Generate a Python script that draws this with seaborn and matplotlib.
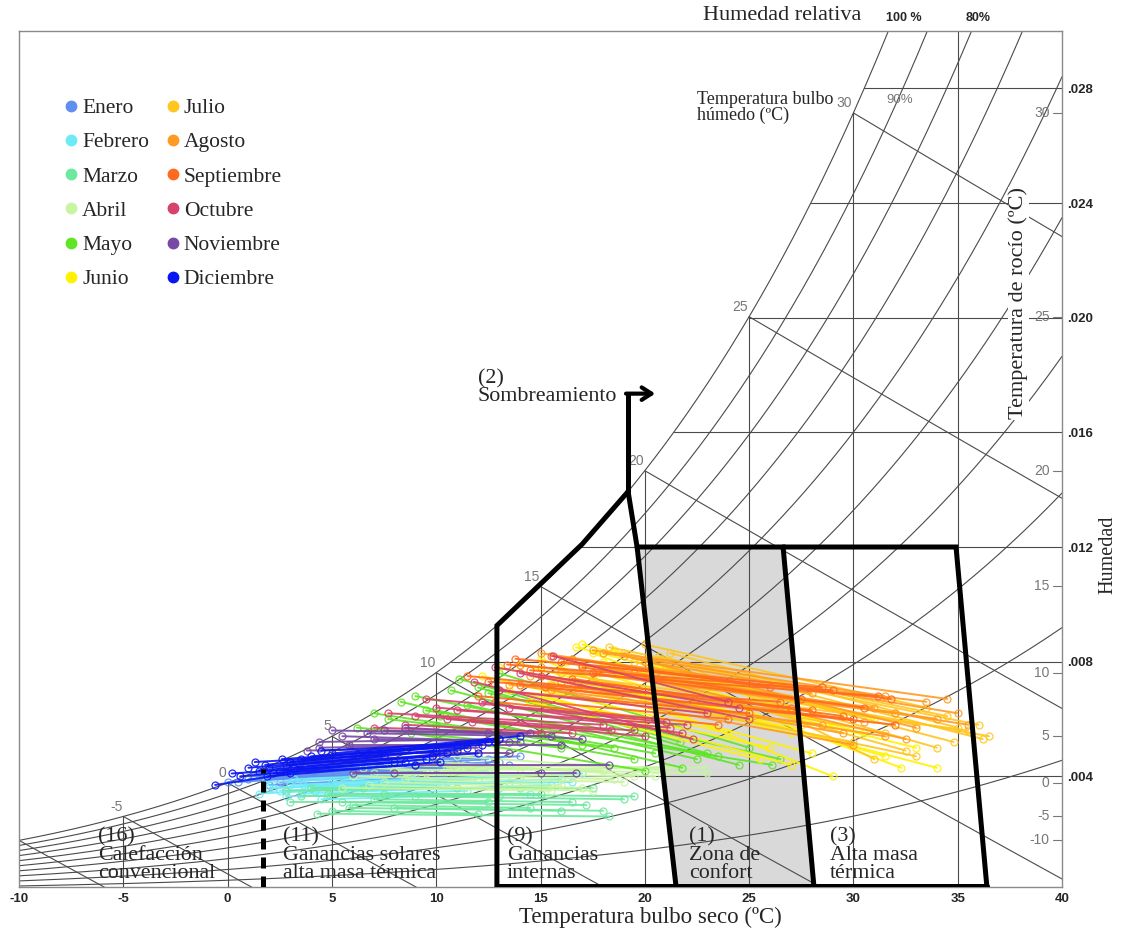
import numpy as np
import pandas as pd
import matplotlib.pyplot as plt
import seaborn as sns
from matplotlib.lines import Line2D

# Meses y colores de la leyenda
meses = ['Enero', 'Febrero', 'Marzo', 'Abril', 'Mayo', 'Junio',
         'Julio', 'Agosto', 'Septiembre', 'Octubre', 'Noviembre', 'Diciembre']
colores = ['#5f8ff0', '#6eeaf7', '#6ee89e', '#c8f5a2', '#5fe524', '#fff200',
           '#ffc61e', '#ff9a22', '#ff6a1e', '#d6426c', '#7848a4', '#0a16f0']

# Lineas diarias: (T min, humedad a T min, T max, humedad a T max)
enero = [(1.0, .0039, 10.0, .0043), (2.0, .0040, 11.5, .0044), (2.5, .0038, 9.0, .0041),
         (1.5, .0041, 12.5, .0046), (3.0, .0042, 13.0, .0045), (0.5, .0038, 8.0, .0042),
         (3.5, .0043, 12.0, .0047), (2.0, .0037, 10.5, .0040), (4.0, .0044, 14.0, .0047),
         (1.2, .0040, 11.0, .0045), (0.0, .0038, 9.5, .0042), (2.8, .0041, 13.5, .0044),
         (1.8, .0039, 7.0, .0041), (3.8, .0042, 11.0, .0043)]
febrero = [(2.0, .0036, 12.0, .0039), (2.5, .0035, 13.5, .0038), (3.0, .0037, 14.0, .0040),
           (1.5, .0034, 10.0, .0037), (3.5, .0034, 15.5, .0037), (4.0, .0036, 16.0, .0039),
           (2.8, .0033, 11.5, .0035), (5.0, .0038, 17.0, .0041), (3.2, .0039, 12.5, .0042),
           (4.5, .0032, 14.5, .0034), (1.8, .0038, 9.0, .0040), (4.2, .0035, 13.0, .0036),
           (3.6, .0037, 16.5, .0038), (2.2, .0036, 10.5, .0038)]
marzo = [(4.3, .0027, 18.3, .0026), (5.5, .0031, 17.2, .0030), (6.0, .0030, 14.5, .0029),
         (3.5, .0033, 13.0, .0033), (7.0, .0032, 16.5, .0031), (4.8, .0034, 15.0, .0034),
         (8.0, .0029, 18.0, .0028), (2.8, .0035, 11.0, .0036), (6.5, .0036, 17.5, .0036),
         (5.0, .0028, 12.0, .0027), (9.0, .0033, 19.0, .0032), (3.0, .0031, 12.5, .0031),
         (7.5, .0034, 19.5, .0033), (5.8, .0029, 16.0, .0028), (4.0, .0036, 14.0, .0036)]
abril = [(6.0, .0040, 19.0, .0038), (8.0, .0042, 21.8, .0043), (7.5, .0038, 17.0, .0036),
         (9.0, .0044, 22.9, .0043), (5.5, .0036, 15.5, .0035), (10.0, .0045, 20.5, .0040),
         (7.0, .0041, 18.5, .0039), (8.5, .0039, 16.0, .0037), (11.0, .0047, 21.0, .0042),
         (6.5, .0043, 14.0, .0041), (9.5, .0041, 19.5, .0040), (7.8, .0044, 18.0, .0042),
         (10.5, .0043, 23.0, .0041), (6.8, .0037, 17.5, .0035)]
mayo = [(6.2, .0057, 16.0, .0050), (7.7, .0060, 18.5, .0050), (8.3, .0066, 21.8, .0043),
        (10.7, .0070, 24.5, .0044), (11.1, .0074, 21.7, .0052), (9.5, .0063, 26.1, .0044),
        (12.0, .0071, 23.0, .0048), (10.0, .0058, 19.5, .0046), (13.0, .0076, 25.0, .0050),
        (8.8, .0055, 20.0, .0042), (11.5, .0065, 22.5, .0046), (9.0, .0068, 23.5, .0047),
        (12.5, .0069, 26.5, .0046), (7.0, .0062, 17.0, .0051), (10.2, .0061, 20.5, .0048)]
junio = [(12.2, .0075, 24.0, .0055), (14.0, .0079, 27.0, .0055), (16.7, .0085, 29.5, .0062),
         (15.0, .0081, 29.0, .0040), (17.5, .0083, 32.3, .0043), (16.0, .0077, 34.0, .0043),
         (13.5, .0070, 26.0, .0050), (18.0, .0080, 30.5, .0055), (15.5, .0073, 28.0, .0048),
         (17.0, .0086, 31.0, .0060), (14.5, .0066, 25.5, .0046), (13.0, .0078, 27.5, .0058),
         (16.2, .0080, 33.0, .0050), (18.5, .0084, 29.0, .0058), (15.2, .0068, 27.0, .0044),
         (17.8, .0076, 31.5, .0047)]
julio = [(18.3, .0085, 34.5, .0061), (20.7, .0082, 36.2, .0053), (21.2, .0083, 35.0, .0057),
         (17.0, .0079, 33.0, .0058), (19.5, .0080, 34.0, .0050), (16.0, .0076, 31.5, .0055),
         (18.8, .0077, 32.5, .0049), (15.5, .0072, 30.0, .0052), (20.0, .0086, 33.5, .0064),
         (17.5, .0074, 35.5, .0056), (22.0, .0079, 31.0, .0046), (19.0, .0083, 36.0, .0058),
         (16.5, .0081, 32.0, .0062), (21.0, .0078, 34.8, .0052), (18.0, .0070, 33.0, .0047),
         (20.5, .0075, 36.5, .0054)]
agosto = [(16.5, .0081, 33.5, .0066), (15.0, .0078, 32.0, .0062), (18.0, .0083, 31.5, .0068),
          (14.5, .0075, 30.5, .0059), (17.0, .0079, 34.0, .0060), (19.0, .0082, 33.0, .0057),
          (16.0, .0073, 29.5, .0055), (13.5, .0072, 28.5, .0058), (18.5, .0077, 32.5, .0053),
          (15.5, .0070, 30.0, .0051), (20.0, .0080, 35.0, .0062), (17.5, .0084, 34.5, .0067),
          (14.0, .0079, 31.0, .0064), (19.5, .0076, 35.5, .0058), (16.8, .0071, 31.5, .0054),
          (15.0, .0083, 28.0, .0069)]
septiembre = [(13.4, .0079, 29.0, .0070), (14.5, .0077, 31.2, .0068), (16.0, .0080, 31.8, .0067),
              (12.5, .0073, 26.5, .0066), (15.0, .0075, 28.0, .0063), (17.0, .0078, 27.5, .0067),
              (13.0, .0070, 25.0, .0062), (14.0, .0072, 30.0, .0060), (16.5, .0074, 29.5, .0061),
              (12.0, .0068, 24.0, .0060), (15.5, .0082, 26.0, .0071), (13.8, .0081, 28.5, .0071),
              (11.5, .0075, 27.0, .0064), (15.2, .0071, 32.0, .0058), (17.5, .0076, 30.5, .0064),
              (12.8, .0066, 23.5, .0058)]
octubre = [(7.7, .0062, 18.0, .0058), (9.0, .0061, 19.5, .0056), (11.8, .0073, 22.3, .0053),
           (12.2, .0066, 21.8, .0055), (11.7, .0059, 18.4, .0056), (15.6, .0082, 24.0, .0066),
           (10.0, .0064, 21.2, .0057), (13.0, .0070, 23.0, .0062), (8.5, .0058, 16.5, .0055),
           (14.0, .0076, 25.0, .0060), (10.5, .0060, 20.0, .0054), (9.5, .0067, 20.5, .0060),
           (11.0, .0063, 22.0, .0058), (12.8, .0078, 24.5, .0064), (7.0, .0057, 15.0, .0055),
           (13.5, .0064, 21.0, .0059)]
noviembre = [(4.4, .0052, 13.0, .0053), (4.4, .0050, 11.5, .0051), (5.5, .0054, 14.0, .0052),
             (6.7, .0055, 15.5, .0054), (7.0, .0053, 13.5, .0052), (3.0, .0045, 10.0, .0047),
             (8.0, .0041, 16.7, .0041), (6.0, .0041, 15.0, .0041), (9.0, .0044, 18.3, .0044),
             (5.0, .0056, 12.5, .0055), (8.5, .0057, 17.0, .0053), (3.8, .0049, 12.0, .0050),
             (5.8, .0051, 16.0, .0051), (7.5, .0056, 14.5, .0055), (6.3, .0048, 13.5, .0048)]
diciembre = [(-0.6, .0037, 3.0, .0041), (0.6, .0040, 9.5, .0046), (1.5, .0042, 10.5, .0048),
             (2.0, .0043, 11.5, .0050), (2.5, .0042, 8.0, .0045), (1.8, .0044, 12.5, .0052),
             (3.0, .0045, 10.0, .0049), (2.2, .0041, 9.0, .0044), (3.5, .0046, 13.0, .0053),
             (1.0, .0043, 7.5, .0047), (4.0, .0047, 11.0, .0051), (2.8, .0044, 12.0, .0048),
             (5.0, .0048, 14.0, .0054), (0.2, .0041, 8.5, .0045), (1.3, .0045, 11.0, .0049),
             (2.6, .0046, 12.2, .0051), (3.2, .0043, 9.8, .0047), (1.9, .0040, 10.2, .0045),
             (4.5, .0049, 12.8, .0052)]
datos_mes = [enero, febrero, marzo, abril, mayo, junio,
             julio, agosto, septiembre, octubre, noviembre, diciembre]

# Grilla psicrometrica
rh_curvas = [1.0, 0.9, 0.8, 0.7, 0.6, 0.5, 0.4, 0.3, 0.2, 0.1]
t_bulbo_humedo = [-10, -5, 0, 5, 10, 15, 20, 25, 30]
t_verticales = [-5, 0, 5, 10, 15, 20, 25, 30, 35]
w_horizontales = [0.004, 0.008, 0.012, 0.016, 0.020, 0.024, 0.028]
w_etiquetas = ['.004', '.008', '.012', '.016', '.020', '.024', '.028']
t_rocio = [30, 25, 20, 15, 10, 5, 0, -5, -10]

P_ATM = 101.325
Y0, Y1 = 0.00014, 0.0300


def p_sat(t):
    t = np.asarray(t, dtype=float)
    return 0.61094 * np.exp(17.625 * t / (t + 243.04))


def w_rh(t, rh):
    pw = rh * p_sat(t)
    return 0.622 * pw / (P_ATM - pw)


t_fino = np.linspace(-10, 40, 600)
w_sat_fino = w_rh(t_fino, 1.0)


def t_sat(w):
    return np.interp(w, w_sat_fino, t_fino)


sns.set_style('white')
plt.rcParams['font.family'] = ['Liberation Serif', 'DejaVu Serif']

fig = plt.figure(figsize=(11.23, 9.32), dpi=100)
ax = fig.add_axes([19 / 1123, 45 / 932, 1043 / 1123, 856 / 932])

gris = '#4a4a4a'
gris_txt = '#777777'
# curvas de humedad relativa
for rh in rh_curvas:
    w = w_rh(t_fino, rh)
    m = w <= Y1 + 0.0005
    ax.plot(t_fino[m], w[m], color=gris, lw=0.8, zorder=1)
# lineas de bulbo humedo
for twb in t_bulbo_humedo:
    t = np.linspace(twb, 40, 200)
    ws = w_rh(twb, 1.0)
    w = ((2501 - 2.326 * twb) * ws - 1.006 * (t - twb)) / (2501 + 1.86 * t - 4.186 * twb)
    m = w >= Y0 - 0.0003
    ax.plot(t[m], w[m], color=gris, lw=0.8, zorder=1)
    if twb > -10:
        ax.text(twb - 0.05, ws + 0.0001, str(twb), ha='right', va='bottom',
                fontsize=10, color=gris_txt, family='Liberation Sans')
# verticales de bulbo seco
for t in t_verticales:
    ax.plot([t, t], [Y0, min(float(w_rh(t, 1.0)), Y1)], color=gris, lw=0.8, zorder=1)
# horizontales de humedad
for w in w_horizontales:
    ax.plot([t_sat(w), 40], [w, w], color=gris, lw=0.8, zorder=1)
# escala de temperatura de rocio
for td in t_rocio:
    w = float(w_rh(td, 1.0))
    ax.plot([39.55, 40], [w, w], color=gris_txt, lw=0.8, zorder=1)
    ax.text(39.4, w, str(td), ha='right', va='center', fontsize=10,
            color=gris_txt, family='Liberation Sans')

# zona de confort (gris)
confort_t = [19.63, 26.63, 28.11, 21.50]
confort_w = [0.012, 0.012, Y0, Y0]
ax.fill(confort_t, confort_w, color='#d9d9d9', zorder=0.5, lw=0)

# datos diarios por mes
filas = []
for mes, lineas in zip(meses, datos_mes):
    for i, (t1, w1, t2, w2) in enumerate(lineas):
        uid = f'{mes}-{i}'
        filas.append({'mes': mes, 'id': uid, 'T': t1, 'W': w1})
        filas.append({'mes': mes, 'id': uid, 'T': t2, 'W': w2})
df = pd.DataFrame(filas)

n0 = len(ax.lines)
sns.lineplot(data=df, x='T', y='W', hue='mes', hue_order=meses, palette=colores,
             units='id', estimator=None, sort=False, marker='o', markersize=5,
             lw=1.4, alpha=0.9, legend=False, ax=ax, zorder=2)
for ln in ax.lines[n0:]:
    ln.set_markeredgecolor(ln.get_color())
    ln.set_markerfacecolor('none')
    ln.set_markeredgewidth(0.9)

# zonas de Givoni
k = dict(color='black', lw=3.6, zorder=4, solid_joinstyle='miter')
ax.plot([19.63, 26.63, 28.11], [0.012, 0.012, Y0], **k)
ax.plot([19.2, 19.63, 21.50], [float(w_rh(19.2, 1.0)), 0.012, Y0], **k)
ax.plot([26.63, 34.92, 36.40], [0.012, 0.012, Y0], **k)
ax.plot([12.91, 36.40], [Y0 + 0.00005, Y0 + 0.00005], **k)
t_borde = [12.91, 17.0, 19.2]
ax.plot([12.91] + t_borde, [Y0] + [float(w_rh(t, 1.0)) for t in t_borde], **k)
ax.plot([19.2, 19.2], [float(w_rh(19.2, 1.0)), 0.01735], **k)
ax.annotate('', xy=(20.5, 0.01735), xytext=(19.1, 0.01735),
            arrowprops=dict(arrowstyle='->,head_length=0.7,head_width=0.45',
                            lw=3.0, color='black', shrinkA=0, shrinkB=0), zorder=4)
ax.plot([1.7, 1.7], [Y0, float(w_rh(1.7, 1.0))], color='black', lw=3.6,
        dashes=(2.2, 1.6), zorder=4)

# etiquetas de zonas
zona_txt = dict(fontsize=15.8, va='top', ha='left', linespacing=0.93, zorder=5)
ax.text(-6.2, 0.00222, '(16)\nCalefacción\nconvencional', **zona_txt)
ax.text(2.66, 0.00222, '(11)\nGanancias solares\nalta masa térmica', **zona_txt)
ax.text(13.39, 0.00222, '(9)\nGanancias\ninternas', **zona_txt)
ax.text(22.12, 0.00222, '(1)\nZona de\nconfort', **zona_txt)
ax.text(28.88, 0.00222, '(3)\nAlta masa\ntérmica', **zona_txt)
ax.text(12.0, 0.01820, '(2)\nSombreamiento', fontsize=15.8, va='top', ha='left',
        linespacing=0.86, zorder=5)

ax.text(22.5, 0.0279, 'Temperatura bulbo\nhúmedo (ºC)', fontsize=13, va='top',
        ha='left', linespacing=0.85)
ax.text(32.2, 0.0276, '90%', fontsize=9.5, color=gris_txt, ha='center', va='center',
        family='Liberation Sans')
ax.text(37.9, 0.0205, 'Temperatura de rocío (ºC)', rotation=90, fontsize=16,
        ha='center', va='center', zorder=5,
        bbox=dict(facecolor='white', edgecolor='none', pad=0.5))

# leyenda
handles = [Line2D([], [], ls='none', marker='o', ms=7.5, color=c, mec=c) for c in colores]
fig.legend(handles, meses, loc='upper left', bbox_to_anchor=(65 / 1123, 1 - 98 / 932),
           ncol=2, frameon=False, fontsize=15.5, handlelength=0.6, handletextpad=0.2,
           columnspacing=0.8, labelspacing=0.66, borderpad=0, borderaxespad=0)

# ejes
ax.set_xlim(-10, 40)
ax.set_ylim(Y0, Y1)
ax.set_xlabel('')
ax.set_ylabel('')
ax.set_xticks(range(-10, 41, 5))
ax.set_xticklabels([str(v) for v in range(-10, 41, 5)], family='Liberation Sans',
                   fontweight='bold', fontsize=9.5)
ax.yaxis.tick_right()
ax.set_yticks(w_horizontales)
ax.set_yticklabels(w_etiquetas, family='Liberation Sans', fontweight='bold', fontsize=9.5)
ax.tick_params(axis='x', length=0, pad=4)
ax.tick_params(axis='y', length=0, pad=4)
for s in ax.spines.values():
    s.set_color('#8a8a8a')
    s.set_linewidth(1.0)

fig.text(650 / 1123, 1 - 917 / 932, 'Temperatura bulbo seco (ºC)', fontsize=16.5,
         ha='center', va='center')
fig.text(1108 / 1123, 1 - 555 / 932, 'Humedad', fontsize=14.5, rotation=90,
         ha='center', va='center')
fig.text(782 / 1123, 1 - 16 / 932, 'Humedad relativa', fontsize=16,
         ha='center', va='center')
fig.text(904 / 1123, 1 - 18 / 932, '100 %', fontsize=9, fontweight='bold',
         family='Liberation Sans', ha='center', va='center')
fig.text(978 / 1123, 1 - 18 / 932, '80%', fontsize=9, fontweight='bold',
         family='Liberation Sans', ha='center', va='center')

fig.savefig('out.png', dpi=100)
